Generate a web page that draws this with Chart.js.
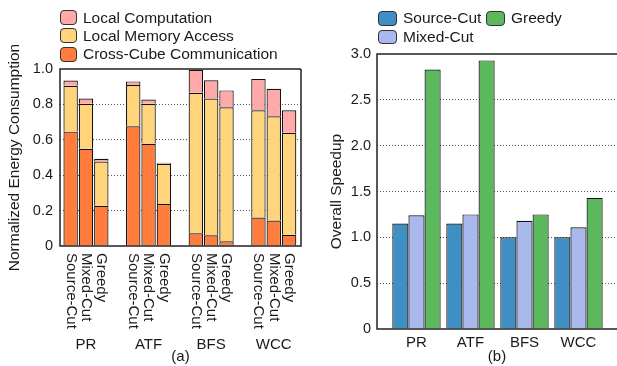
<!DOCTYPE html>
<html>
<head>
<meta charset="utf-8">
<script src="https://cdn.jsdelivr.net/npm/chart.js@4.4.1/dist/chart.umd.min.js"></script>
<style>
  body { margin: 0; background: #fff; }
  #wrap { position: relative; width: 617px; height: 366px; background: #fff; font-family: 'Liberation Sans', Arial, sans-serif; color: #1a1a1a; }
  .pane { position: absolute; top: 0; height: 366px; }
  .key { position: absolute; display: flex; align-items: center; font-size: 15.5px; line-height: 16px; white-space: nowrap; }
  .key i { display: inline-block; box-sizing: border-box; border: 1px solid #333; border-radius: 4px; }
</style>
</head>
<body>
<div id="wrap">
  <div class="pane" style="left:0;width:305px"><canvas id="energy"></canvas></div>
  <div class="pane" style="left:305px;width:312px"><canvas id="speedup"></canvas></div>
</div>
<script>
const groups = ['PR', 'ATF', 'BFS', 'WCC'];
const methods = ['Source-Cut', 'Mixed-Cut', 'Greedy'];

// (a) energy parts, one row per method, one value per group
const parts = ['Cross-Cube Communication', 'Local Memory Access', 'Local Computation'];
const partColors = ['#ff7c3c', '#ffd47a', '#ffaaa8'];
const crossCube = [
  [0.646, 0.676, 0.072, 0.161],
  [0.549, 0.578, 0.061, 0.144],
  [0.227, 0.237, 0.027, 0.063]
];
const localMemory = [
  [0.259, 0.233, 0.794, 0.606],
  [0.254, 0.225, 0.772, 0.589],
  [0.250, 0.227, 0.757, 0.577]
];
const localComp = [
  [0.030, 0.021, 0.130, 0.176],
  [0.030, 0.025, 0.103, 0.155],
  [0.016, 0.006, 0.095, 0.127]
];
const energyTicks = [0, 0.2, 0.4, 0.6, 0.8, 1.0];

// (b) speedup
const sourceCut = [1.15, 1.15, 1.00, 1.00];
const mixedCut = [1.24, 1.25, 1.18, 1.11];
const greedy = [2.83, 2.93, 1.25, 1.43];
const methodColors = ['#3f8fc4', '#a9b9ee', '#5cb85c'];
const speedupTicks = [0, 0.5, 1.0, 1.5, 2.0, 2.5, 3.0];

Chart.defaults.font.family = "'Liberation Sans', Arial, sans-serif";
Chart.defaults.color = '#1a1a1a';
Chart.defaults.animation = false;

const fmt = v => v === 0 ? '0' : v.toFixed(1);

// box / axis lines round the plot
const frame = {
  id: 'frame',
  afterDatasetsDraw(chart, args, opts) {
    const {ctx, chartArea: a} = chart;
    ctx.save();
    ctx.strokeStyle = '#222';
    ctx.lineWidth = 1.5;
    ctx.beginPath();
    ctx.moveTo(a.right, a.top);
    ctx.lineTo(a.left, a.top);
    ctx.lineTo(a.left, a.bottom);
    ctx.lineTo(a.right, a.bottom);
    if (opts.closed) ctx.lineTo(a.right, a.top);
    ctx.stroke();
    ctx.restore();
  }
};

// method names under each bar, turned to read downwards
const barNames = {
  id: 'barNames',
  afterDraw(chart) {
    const ctx = chart.ctx;
    ctx.save();
    ctx.font = "15px 'Liberation Sans', Arial";
    ctx.fillStyle = '#1a1a1a';
    ctx.textBaseline = 'middle';
    ctx.textAlign = 'left';
    methods.forEach((m, j) => {
      chart.getDatasetMeta(j * 3).data.forEach(bar => {
        ctx.save();
        ctx.translate(bar.x, chart.chartArea.bottom + 7);
        ctx.rotate(Math.PI / 2);
        ctx.fillText(m, 0, 0);
        ctx.restore();
      });
    });
    ctx.restore();
  }
};

const groupAxis = (min, max, h, pad, title) => ({
  type: 'linear', min, max, bounds: 'data', offset: false,
  grid: {display: false, drawTicks: false}, border: {display: false},
  afterBuildTicks: s => { s.ticks = groups.map((g, i) => ({value: i})); },
  afterFit: s => { s.height = h; s.paddingLeft = 0; s.paddingRight = 0; },
  ticks: {callback: v => groups[v], padding: pad, font: {size: 15}, autoSkip: false, maxRotation: 0},
  title: {display: true, text: title, font: {size: 15}, padding: 0}
});

const energySets = [];
methods.forEach((m, j) => {
  [crossCube, localMemory, localComp].forEach((arr, k) => {
    energySets.push({
      label: parts[k],
      stack: m,
      data: arr[j].map((v, i) => ({x: i, y: v})),
      backgroundColor: partColors[k],
      borderColor: '#111',
      borderWidth: 1.2,
      categoryPercentage: 0.735,
      barPercentage: 0.94
    });
  });
});

new Chart(document.getElementById('energy'), {
  type: 'bar',
  data: {datasets: energySets},
  options: {
    responsive: true,
    maintainAspectRatio: false,
    layout: {padding: {top: 69, right: 4, left: 0, bottom: 0}},
    plugins: {legend: {display: false}, tooltip: {enabled: false}, frame: {closed: true}},
    scales: {
      x: groupAxis(-0.415, 3.435, 120, 90, '(a)'),
      y: {
        stacked: true, min: 0, max: 1,
        grid: {color: c => (c.tick.value > 0 && c.tick.value < 1) ? '#555' : 'transparent', drawTicks: false},
        border: {display: false, dash: [1, 2]},
        afterBuildTicks: s => { s.ticks = energyTicks.map(v => ({value: v})); },
        afterFit: s => { s.width = 60; },
        ticks: {callback: fmt, padding: 7, font: {size: 14.5}},
        title: {display: true, text: 'Normalized Energy Consumption', font: {size: 15.5}, padding: {top: 5, bottom: 0}}
      }
    }
  },
  plugins: [frame, barNames]
});

new Chart(document.getElementById('speedup'), {
  type: 'bar',
  data: {
    datasets: [sourceCut, mixedCut, greedy].map((arr, j) => ({
      label: methods[j],
      data: arr.map((v, i) => ({x: i, y: v})),
      backgroundColor: methodColors[j],
      borderColor: '#111',
      borderWidth: 1.2,
      categoryPercentage: 0.896,
      barPercentage: 1
    }))
  },
  options: {
    responsive: true,
    maintainAspectRatio: false,
    layout: {padding: {top: 54, right: 0, left: 0, bottom: 0}},
    plugins: {legend: {display: false}, tooltip: {enabled: false}, frame: {closed: false}},
    scales: {
      x: groupAxis(-0.731, 3.713, 37, 5, '(b)'),
      y: {
        min: 0, max: 3,
        grid: {color: c => (c.tick.value > 0 && c.tick.value < 3) ? '#555' : 'transparent', drawTicks: false},
        border: {display: false, dash: [1, 2]},
        afterBuildTicks: s => { s.ticks = speedupTicks.map(v => ({value: v})); },
        afterFit: s => { s.width = 72; },
        ticks: {callback: fmt, padding: 6, font: {size: 14.5}},
        title: {display: true, text: 'Overall Speedup', font: {size: 15.5}, padding: {top: 22, bottom: 0}}
      }
    }
  },
  plugins: [frame]
});

// legends as page text
const wrap = document.getElementById('wrap');
function addKey(text, color, left, top, w, h) {
  const d = document.createElement('div');
  d.className = 'key';
  d.style.left = left + 'px';
  d.style.top = top + 'px';
  d.innerHTML = `<i style="width:${w}px;height:${h}px;background:${color}"></i><span style="margin-left:6px">${text}</span>`;
  wrap.appendChild(d);
}
[2, 1, 0].forEach((k, r) => addKey(parts[k], partColors[k], 60, 9.5 + r * 18.4, 17, 15));
addKey(methods[0], methodColors[0], 378, 10, 19, 15);
addKey(methods[2], methodColors[2], 486, 10, 19, 15);
addKey(methods[1], methodColors[1], 378, 29, 19, 14);
</script>
</body>
</html>
